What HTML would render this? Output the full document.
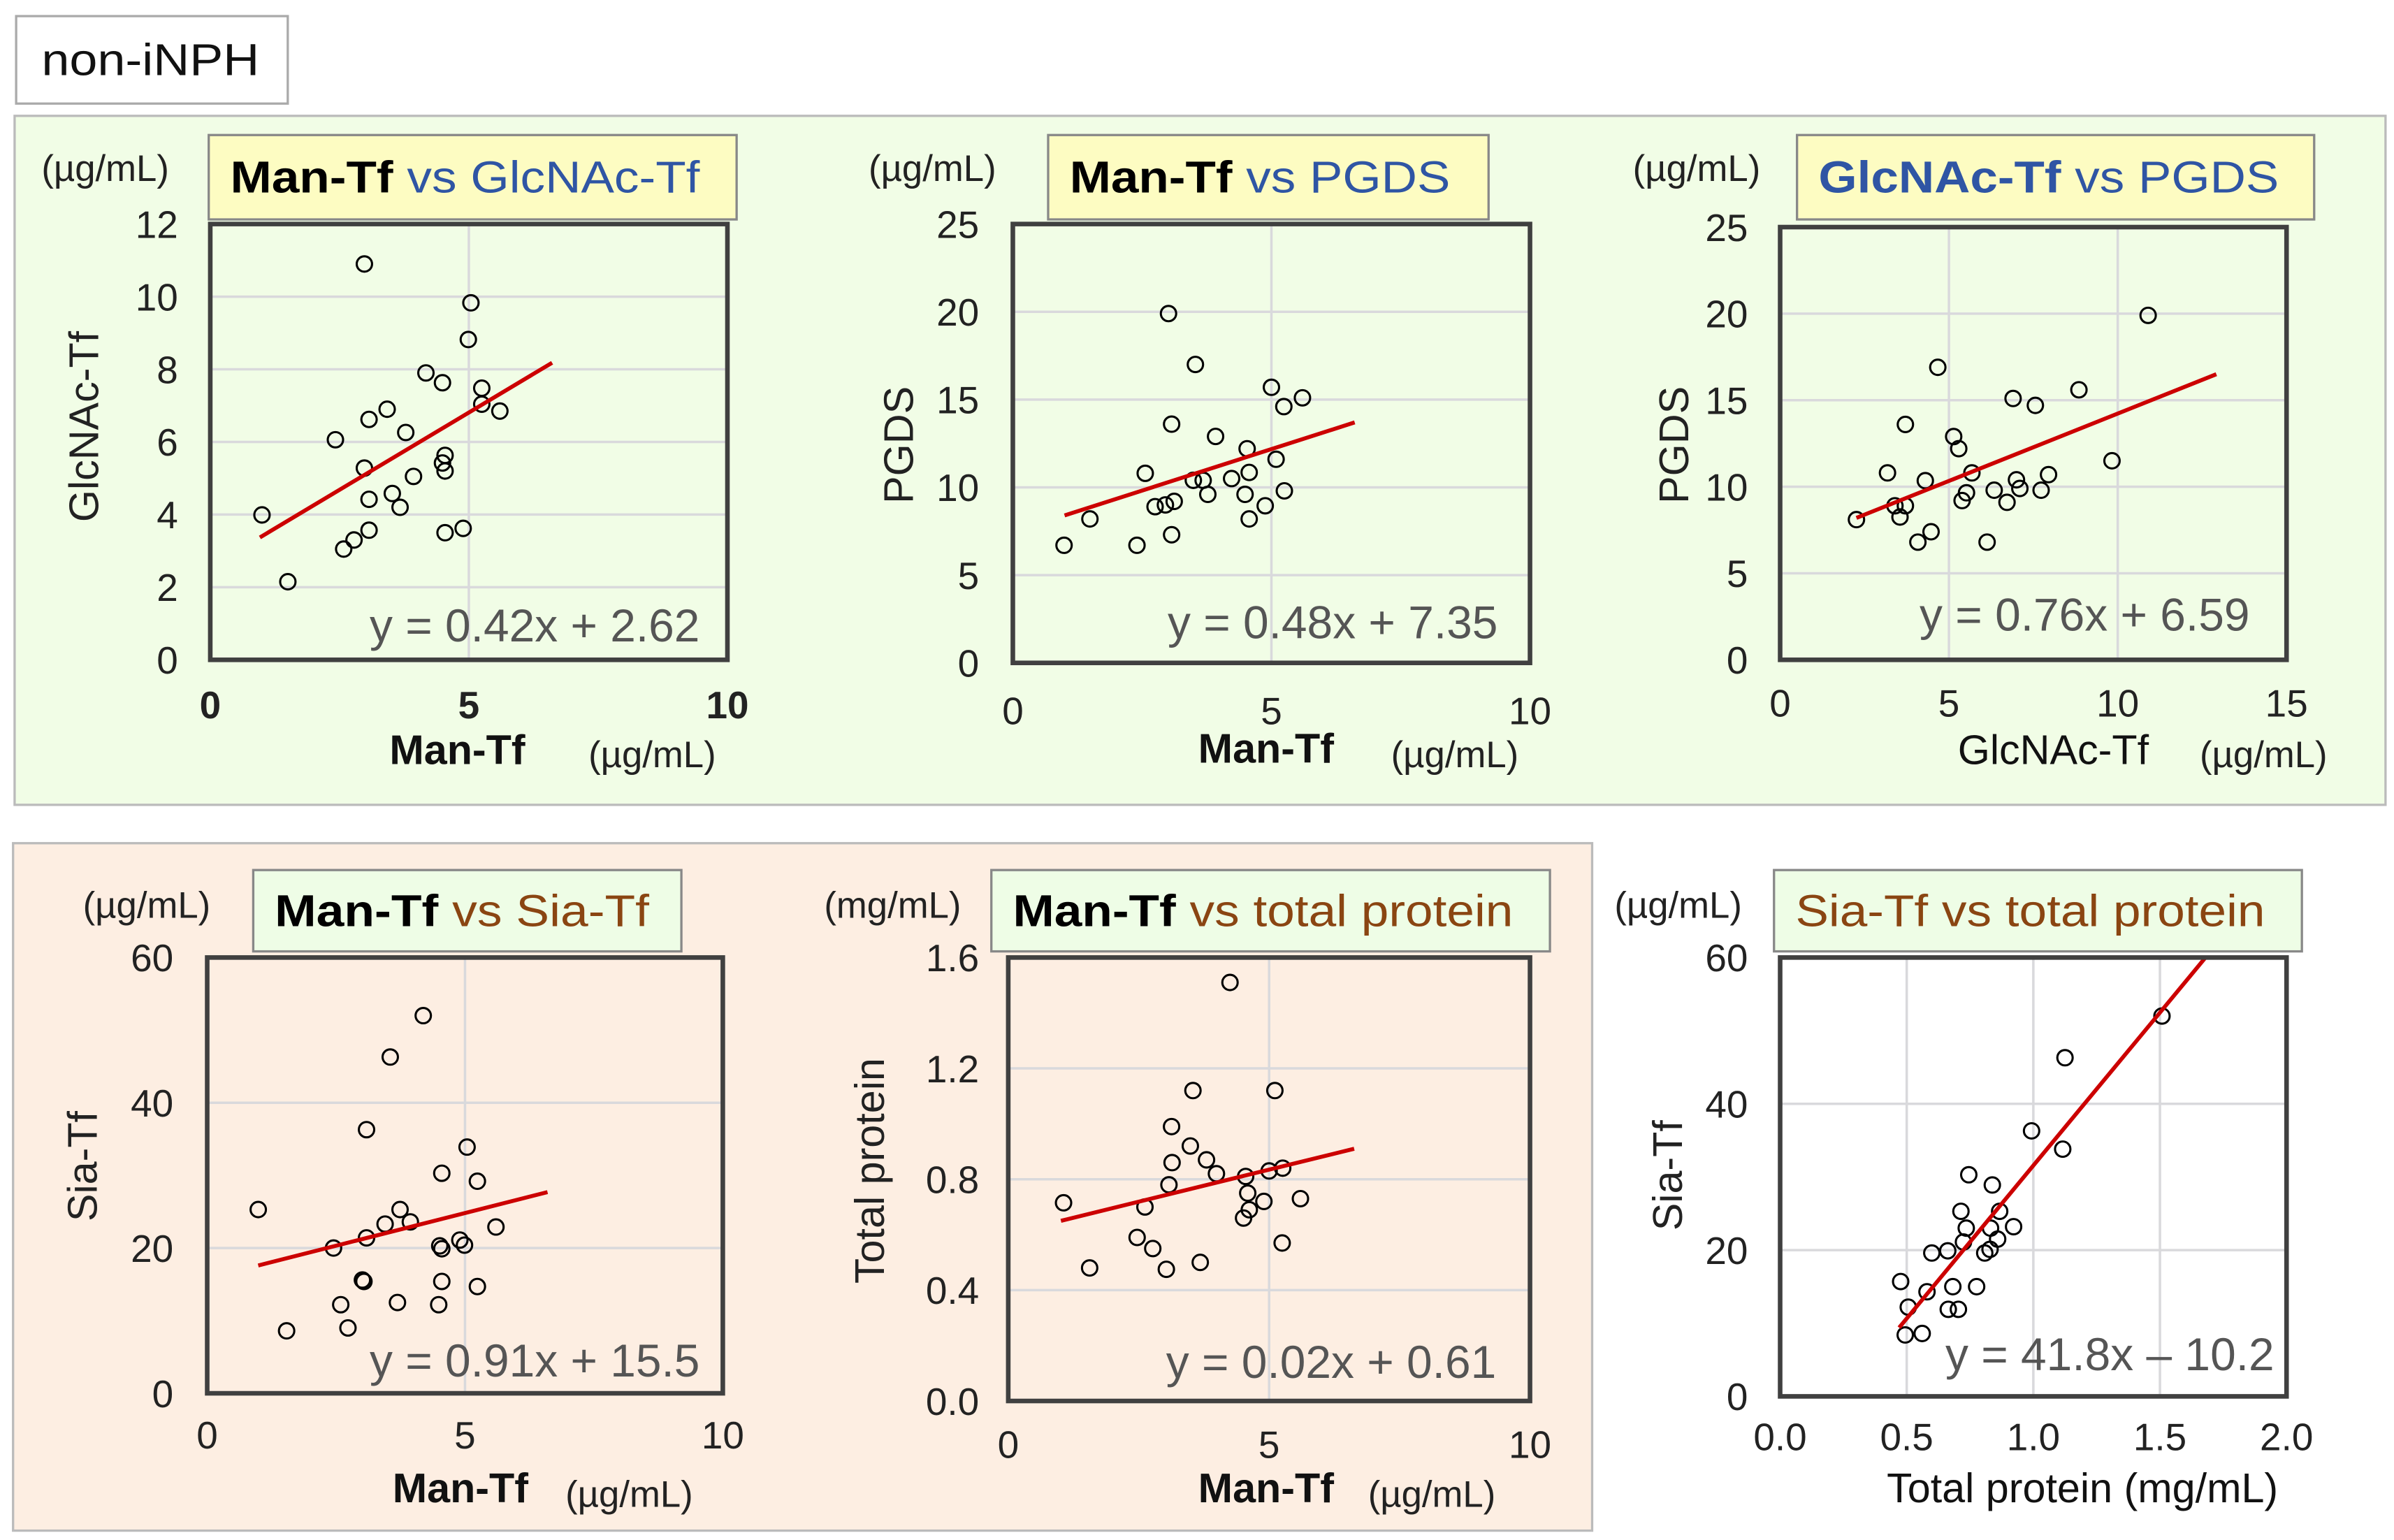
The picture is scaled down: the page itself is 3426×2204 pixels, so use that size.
<!DOCTYPE html>
<html><head><meta charset="utf-8">
<style>
html,body{margin:0;padding:0;background:#fff;}
svg{display:block;font-family:"Liberation Sans",Arial,sans-serif;}
</style></head>
<body>
<svg id="root" width="3426" height="2204" viewBox="0 0 1560 1003.6" xmlns="http://www.w3.org/2000/svg">
  <rect x="10.5" y="10.5" width="177" height="57" fill="#fff" stroke="#aaa" stroke-width="1.5"/>
  <text x="27" y="49" font-size="29" fill="#111" textLength="142" lengthAdjust="spacingAndGlyphs">non-iNPH</text>
  <rect x="9.5" y="75.5" width="1545" height="449" fill="#f1fde6" stroke="#bbb" stroke-width="1.5"/>
  <rect x="8.5" y="549.5" width="1029" height="448" fill="#fdeee2" stroke="#bbb" stroke-width="1.5"/>
  <g id="charts"></g>
</svg>
<script>
// ---- Data: Panel 1 Man-Tf vs GlcNAc-Tf ----
const p1X = [2.98,5.04,4.99,4.17,4.49,5.25,5.25,5.6,3.42,3.07,3.78,2.42,4.54,4.49,4.54,2.98,3.93,3.52,3.07,3.67,1.0,3.07,2.78,2.58,4.54,4.89,1.5];
const p1Y = [10.9,9.83,8.82,7.9,7.63,7.48,7.04,6.85,6.9,6.62,6.26,6.06,5.63,5.42,5.2,5.28,5.05,4.58,4.42,4.2,3.99,3.57,3.3,3.05,3.5,3.62,2.15];
const p1FitX = [0.96, 6.61];
const p1FitY = [3.37, 8.18];
const p1XTicks = [0,5,10];
const p1YTicks = [0,2,4,6,8,10,12];
// ---- Panel 2 Man-Tf vs PGDS ----
const p2X = [3.01,3.53,5.0,5.6,5.24,3.07,3.92,4.53,5.09,2.56,4.57,4.23,3.49,3.68,3.77,4.49,5.25,3.12,2.95,2.75,4.88,4.57,1.49,3.07,0.99,2.4];
const p2Y = [19.9,17.0,15.7,15.1,14.6,13.6,12.9,12.2,11.6,10.8,10.85,10.5,10.4,10.4,9.6,9.6,9.8,9.2,9.0,8.9,8.95,8.2,8.2,7.3,6.7,6.7];
const p2FitX = [1.0, 6.61];
const p2FitY = [8.4, 13.7];
const p2XTicks = [0,5,10];
const p2YTicks = [0,5,10,15,20,25];
// ---- Panel 3 GlcNAc-Tf vs PGDS ----
const p3X = [10.9,4.67,8.85,6.9,7.56,3.71,5.14,5.29,9.83,3.18,5.68,7.95,4.3,7.0,7.1,6.34,7.73,5.52,5.39,6.72,3.4,3.71,3.55,2.26,4.47,4.08,6.13];
const p3Y = [19.9,16.9,15.6,15.1,14.7,13.6,12.9,12.2,11.5,10.8,10.8,10.7,10.35,10.4,9.9,9.8,9.8,9.65,9.2,9.1,8.9,8.9,8.25,8.1,7.4,6.8,6.8];
const p3FitX = [2.26, 12.92];
const p3FitY = [8.2, 16.5];
const p3XTicks = [0,5,10,15];
const p3YTicks = [0,5,10,15,20,25];
// ---- Panel 4 Man-Tf vs Sia-Tf ----
const p4X = [4.19,3.55,3.09,5.04,4.55,5.24,0.99,3.74,3.94,3.45,5.6,3.09,2.45,4.51,4.55,4.9,4.99,3.01,3.04,4.55,5.24,2.59,3.69,4.49,2.73,1.54];
const p4Y = [52.0,46.3,36.3,33.9,30.3,29.2,25.3,25.3,23.6,23.3,22.9,21.4,20.0,20.3,19.9,21.1,20.4,15.6,15.4,15.4,14.7,12.2,12.5,12.2,9.0,8.6];
const p4FitX = [0.99, 6.6];
const p4FitY = [17.6, 27.7];
const p4XTicks = [0,5,10];
const p4YTicks = [0,20,40,60];
// ---- Panel 5 Man-Tf vs total protein ----
const p5X = [4.25,3.54,5.11,3.13,3.49,3.14,3.8,3.99,4.55,5.0,5.26,3.08,1.06,2.62,4.59,4.9,5.6,4.62,4.51,2.47,2.77,5.25,1.56,3.03,3.68];
const p5Y = [1.51,1.12,1.12,0.99,0.92,0.86,0.87,0.82,0.81,0.83,0.84,0.78,0.715,0.70,0.75,0.72,0.73,0.69,0.66,0.59,0.55,0.57,0.48,0.475,0.50];
const p5FitX = [1.01, 6.63];
const p5FitY = [0.65, 0.91];
const p5XTicks = [0,5,10];
const p5YTicks = [0.0,0.4,0.8,1.2,1.6];
// ---- Panel 6 Sia-Tf vs total protein ----
const p6X = [1.508,1.125,0.993,1.116,0.745,0.838,0.714,0.867,0.922,0.735,0.831,0.859,0.724,0.662,0.599,0.808,0.829,0.476,0.58,0.682,0.776,0.506,0.664,0.704,0.494,0.561];
const p6Y = [52.0,46.3,36.3,33.8,30.3,28.9,25.3,25.3,23.2,23.0,23.0,21.5,21.1,19.9,19.6,19.6,20.1,15.7,14.3,15.0,15.0,12.2,11.9,11.9,8.4,8.6];
const p6FitX = [0.47, 1.68];
const p6FitY = [9.4, 60.0];
const p6XTicks = [0.0,0.5,1.0,1.5,2.0];
const p6YTicks = [0,20,40,60];

const NS = "http://www.w3.org/2000/svg";
const root = document.getElementById('charts');
function mk(tag, attrs, parent){
  const e = document.createElementNS(NS, tag);
  for (const k in attrs) e.setAttribute(k, attrs[k]);
  (parent||root).appendChild(e);
  return e;
}
function txt(s, attrs, parent){ const t = mk('text', attrs, parent); t.textContent = s; return t; }

function panel(cfg){
  const g = mk('g', {});
  
  
  const L=cfg.frame[0], T=cfg.frame[1], R=cfg.frame[2], B=cfg.frame[3];
  const sx = v => L + (v - cfg.xr[0]) / (cfg.xr[1]-cfg.xr[0]) * (R-L);
  const sy = v => B - (v - cfg.yr[0]) / (cfg.yr[1]-cfg.yr[0]) * (B-T);
  const tb = mk('rect', {x:cfg.tbox[0], y:cfg.tbox[1], width:cfg.tbox[2]-cfg.tbox[0], height:cfg.tbox[3]-cfg.tbox[1], fill:cfg.tfill, stroke:'#888', 'stroke-width':1.5}, g);
  
  
  const tt = mk('text', {x:cfg.tbox[0]+14, y:(cfg.tbox[1]+cfg.tbox[3])/2+10, 'font-size':29, textLength:cfg.tlen, lengthAdjust:'spacingAndGlyphs'}, g);
  
  
  cfg.title.forEach(p => { const s = document.createElementNS(NS,'tspan'); s.setAttribute('fill', p[1]); if(p[2]) s.setAttribute('font-weight','bold'); s.textContent = p[0]; tt.appendChild(s); });
  const bg = mk('rect', {x:L, y:T, width:R-L, height:B-T, fill:cfg.pfill}, g);
  
  
  cfg.xTicks.forEach(v => { if (v>cfg.xr[0] && v<cfg.xr[1]) { const l = mk('line', {x1:sx(v), x2:sx(v), y1:T, y2:B, stroke:'#d9d9dc', 'stroke-width':1.6}, g);
    
     } });
  cfg.yTicks.forEach(v => { if (v>cfg.yr[0] && v<cfg.yr[1]) { const l = mk('line', {x1:L, x2:R, y1:sy(v), y2:sy(v), stroke:'#d9d9dc', 'stroke-width':1.6}, g);
    
     } });
  cfg.xs.forEach((xv,i) => { const c = mk('circle', {cx:sx(xv), cy:sy(cfg.ys[i]), r:5, fill:'none', stroke:'#000', 'stroke-width':1.4}, g);
    
     });
  const fl = mk('line', {x1:sx(cfg.fitX[0]), y1:sy(cfg.fitY[0]), x2:sx(cfg.fitX[1]), y2:sy(cfg.fitY[1]), stroke:'#cc0000', 'stroke-width':2.6}, g);
  
  
  const eq = txt(cfg.eq, {x:cfg.eqPos[0], y:cfg.eqPos[1], 'font-size':30, fill:'#555', 'text-anchor':'end'}, g);
  
  
  const fr2 = mk('rect', {x:L, y:T, width:R-L, height:B-T, fill:'none', stroke:'#404040', 'stroke-width':3}, g);
  
  
  cfg.yTicks.forEach(v => { const t = txt(v.toFixed(cfg.yDec), {x:cfg.yTickX, y:sy(v)+9, 'font-size':25, fill:'#222', 'text-anchor':'end'}, g);
    
     });
  cfg.xTicks.forEach(v => { const t = txt(v.toFixed(cfg.xDec), {x:sx(v), y:cfg.xTickY, 'font-size':25, fill:'#222', 'text-anchor':'middle', 'font-weight':cfg.xBold?'bold':'normal'}, g);
    
     });
  const u = txt(cfg.unit, {x:cfg.unitPos[0], y:cfg.unitPos[1], 'font-size':24, fill:'#222'}, g);
  
  
  const yt = txt(cfg.yTitle, {x:0, y:0, 'font-size':27, fill:'#222', 'text-anchor':'middle', transform:'translate('+cfg.yTitlePos[0]+','+cfg.yTitlePos[1]+') rotate(-90)'}, g);
  
  
  const xt = txt(cfg.xTitle[0], {x:cfg.xTitle[1], y:cfg.xTitle[2], 'font-size':27, fill:'#111', 'text-anchor':'middle', 'font-weight':cfg.xTitle[3]?'bold':'normal'}, g);
  
  
  if (cfg.xUnit) { const xu = txt(cfg.xUnit[0], {x:cfg.xUnit[1], y:cfg.xUnit[2], 'font-size':24, fill:'#222', 'text-anchor':'middle'}, g);
    
     }
}
const BLUE='#2f55a4', BROWN='#8a4512', BLK='#000';
panel({name:'chart-man-vs-glcnac', frame:[137,146,474,430], xr:[0,10], yr:[0,12], xs:p1X, ys:p1Y, fitX:p1FitX, fitY:p1FitY, xTicks:p1XTicks, yTicks:p1YTicks, xDec:0, yDec:0, xBold:true,
  tbox:[136,88,480,143], tfill:'#fdfcc2', tlen:306, title:[['Man-Tf',BLK,1],[' vs GlcNAc-Tf',BLUE,0]], pfill:'#f1fde6',
  eq:'y = 0.42x + 2.62', eqPos:[456,418], yTickX:116, xTickY:468, unit:'(µg/mL)', unitPos:[27,118], yTitle:'GlcNAc-Tf', yTitlePos:[64,278], xTitle:['Man-Tf',298,498,1], xUnit:['(µg/mL)',425,500]});
panel({name:'chart-man-vs-pgds', frame:[660,146,997,432], xr:[0,10], yr:[0,25], xs:p2X, ys:p2Y, fitX:p2FitX, fitY:p2FitY, xTicks:p2XTicks, yTicks:p2YTicks, xDec:0, yDec:0, xBold:false,
  tbox:[683,88,970,143], tfill:'#fdfcc2', tlen:248, title:[['Man-Tf',BLK,1],[' vs PGDS',BLUE,0]], pfill:'#f1fde6',
  eq:'y = 0.48x + 7.35', eqPos:[976,416], yTickX:638, xTickY:472, unit:'(µg/mL)', unitPos:[566,118], yTitle:'PGDS', yTitlePos:[595,290], xTitle:['Man-Tf',825,497,1], xUnit:['(µg/mL)',948,500]});
panel({name:'chart-glcnac-vs-pgds', frame:[1160,148,1490,430], xr:[0,15], yr:[0,25], xs:p3X, ys:p3Y, fitX:p3FitX, fitY:p3FitY, xTicks:p3XTicks, yTicks:p3YTicks, xDec:0, yDec:0, xBold:false,
  tbox:[1171,88,1508,143], tfill:'#fdfcc2', tlen:300, title:[['GlcNAc-Tf',BLUE,1],[' vs PGDS',BLUE,0]], pfill:'#f1fde6',
  eq:'y = 0.76x + 6.59', eqPos:[1466,411], yTickX:1139, xTickY:467, unit:'(µg/mL)', unitPos:[1064,118], yTitle:'PGDS', yTitlePos:[1100,290], xTitle:['GlcNAc-Tf',1338,498,0], xUnit:['(µg/mL)',1475,500]});
panel({name:'chart-man-vs-sia', frame:[135,624,471,908], xr:[0,10], yr:[0,60], xs:p4X, ys:p4Y, fitX:p4FitX, fitY:p4FitY, xTicks:p4XTicks, yTicks:p4YTicks, xDec:0, yDec:0, xBold:false,
  tbox:[165,567,444,620], tfill:'#eefde6', tlen:244, title:[['Man-Tf',BLK,1],[' vs Sia-Tf',BROWN,0]], pfill:'#fdeee2',
  eq:'y = 0.91x + 15.5', eqPos:[456,897], yTickX:113, xTickY:944, unit:'(µg/mL)', unitPos:[54,598], yTitle:'Sia-Tf', yTitlePos:[63,760], xTitle:['Man-Tf',300,979,1], xUnit:['(µg/mL)',410,982]});
panel({name:'chart-man-vs-total-protein', frame:[657,624,997,913], xr:[0,10], yr:[0,1.6], xs:p5X, ys:p5Y, fitX:p5FitX, fitY:p5FitY, xTicks:p5XTicks, yTicks:p5YTicks, xDec:0, yDec:1, xBold:false,
  tbox:[646,567,1010,620], tfill:'#eefde6', tlen:326, title:[['Man-Tf',BLK,1],[' vs total protein',BROWN,0]], pfill:'#fdeee2',
  eq:'y = 0.02x + 0.61', eqPos:[975,898], yTickX:638, xTickY:950, unit:'(mg/mL)', unitPos:[537,598], yTitle:'Total protein', yTitlePos:[576,763], xTitle:['Man-Tf',825,979,1], xUnit:['(µg/mL)',933,982]});
panel({name:'chart-sia-vs-total-protein', frame:[1160,624,1490,910], xr:[0,2], yr:[0,60], xs:p6X, ys:p6Y, fitX:p6FitX, fitY:p6FitY, xTicks:p6XTicks, yTicks:p6YTicks, xDec:1, yDec:0, xBold:false,
  tbox:[1156,567,1500,620], tfill:'#eefde6', tlen:306, title:[['Sia-Tf vs total protein',BROWN,0]], pfill:'#ffffff',
  eq:'y = 41.8x \u2013 10.2', eqPos:[1482,893], yTickX:1139, xTickY:945, unit:'(µg/mL)', unitPos:[1052,598], yTitle:'Sia-Tf', yTitlePos:[1096,766], xTitle:['Total protein (mg/mL)',1357,979,0], xUnit:null});
</script>
</body></html>
